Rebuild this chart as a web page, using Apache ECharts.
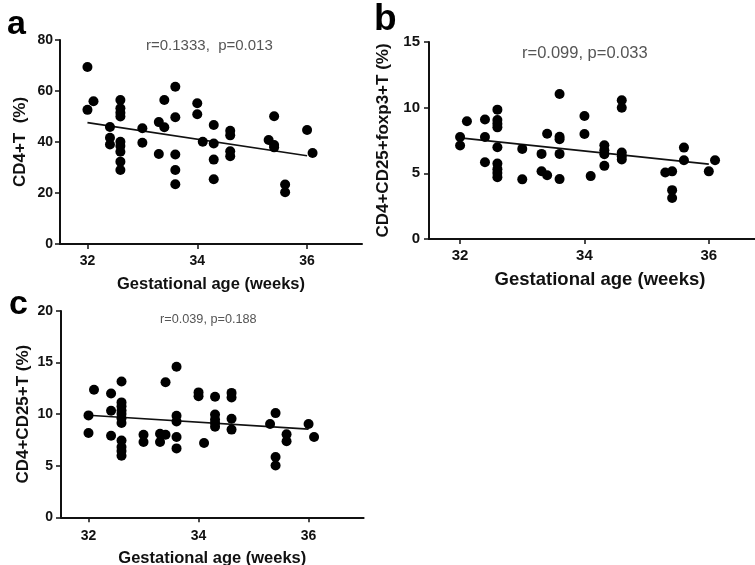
<!DOCTYPE html>
<html><head><meta charset="utf-8">
<script src="https://cdn.jsdelivr.net/npm/echarts@6/dist/echarts.min.js"></script>
<style>html,body{margin:0;background:#fff}#c{width:755px;height:565px}</style>
</head><body><div id="c"></div>
<script>
// Panel a: CD4+T (%)
const xA = [32,32,32.11,32.41,32.41,32.41,32.6,32.6,32.6,32.6,32.6,32.6,32.6,32.6,32.6,33.0,33.0,33.3,33.3,33.4,33.4,33.6,33.6,33.6,33.6,33.6,34.0,34.0,34.1,34.3,34.3,34.3,34.3,34.6,34.6,34.6,34.6,35.3,35.4,35.4,35.4,35.6,35.6,36.0,36.1];
const yA = [69.4,52.6,56,45.9,41.7,39.0,56.5,53.2,51.5,50.0,40.1,38.4,36.2,32.3,29.0,45.4,39.7,47.8,35.3,45.8,56.5,61.7,49.7,35.1,29.0,23.4,55.2,50.9,40.1,46.7,39.4,33.1,25.4,44.4,42.6,36.4,34.4,40.8,50.1,38.8,37.9,23.3,20.3,44.7,35.7];
const fitA = [[32,47.6],[36,34.6]];
// Panel b: CD4+CD25+foxp3+T (%)
const xB = [32,32,32.11,32.4,32.4,32.4,32.6,32.6,32.6,32.6,32.6,32.6,32.6,32.6,32.6,33.0,33.0,33.31,33.31,33.4,33.4,33.6,33.6,33.6,33.6,33.6,34.0,34.0,34.1,34.32,34.32,34.32,34.32,34.6,34.6,34.6,34.6,34.6,35.3,35.41,35.41,35.41,35.6,35.6,36.0,36.1];
const yB = [7.76,7.12,8.96,9.1,7.77,5.85,9.85,9.06,8.78,8.5,6.99,5.74,5.32,5.02,4.71,6.86,4.54,6.48,5.16,8.01,4.85,11.04,7.78,7.6,6.48,4.56,9.37,8.0,4.79,7.14,6.76,6.46,5.57,10.57,10.0,6.58,6.3,6.05,5.07,5.15,3.72,3.12,6.96,5.99,5.15,5.99];
const fitB = [[32,7.7],[36,5.7]];
// Panel c: CD4+CD25+T (%)
const xC = [32,32,32.1,32.41,32.41,32.41,32.6,32.6,32.6,32.6,32.6,32.6,32.6,32.6,32.6,32.6,32.6,33.0,33.0,33.3,33.3,33.4,33.4,33.6,33.6,33.6,33.6,33.6,34.0,34.0,34.1,34.3,34.3,34.3,34.3,34.3,34.6,34.6,34.6,34.6,35.3,35.4,35.4,35.4,35.6,35.6,36.0,36.1];
const yC = [9.88,8.17,12.37,12.0,10.33,7.91,13.17,11.14,10.77,10.36,10.01,9.6,9.15,7.44,6.81,6.42,5.97,8.01,7.3,8.1,7.3,13.1,8.01,14.59,9.85,9.28,7.78,6.68,12.11,11.73,7.2,11.68,9.96,9.49,9.15,8.78,12.06,11.62,9.55,8.5,9.04,10.1,5.84,5.03,8.04,7.37,9.04,7.78];
const fitC = [[32,9.9],[36,8.55]];
const xTicks = [32,34,36];
const xTitle = 'Gestational age (weeks)';
const yTitles = ['CD4+T  (%)','CD4+CD25+foxp3+T (%)','CD4+CD25+T (%)'];
const stats = ['r=0.1333,  p=0.013','r=0.099, p=0.033','r=0.039, p=0.188'];
const panelLetters = ['a','b','c'];

const zip = (xs, ys) => xs.map((x,i)=>[x, ys[i]]);
const FONT = '"Liberation Sans", Arial, sans-serif';
const chart = echarts.init(document.getElementById('c'), null, {renderer:'canvas'});

function xAxis(gi, labelSize, labelMargin, nameGap, nameSize){
  return {
    type:'value', gridIndex: gi, min:31.5, max:37,
    name: xTitle, nameLocation:'middle', nameGap: nameGap,
    nameTextStyle:{fontFamily:FONT, fontWeight:'bold', fontSize:nameSize, color:'#111'},
    axisLine:{show:true, onZero:false, lineStyle:{color:'#111', width:2}},
    axisTick:{show:true, customValues:xTicks, length:5, lineStyle:{color:'#111', width:1.5}},
    axisLabel:{customValues:xTicks, margin:labelMargin, fontFamily:FONT, fontWeight:'bold', fontSize:labelSize, color:'#111'},
    splitLine:{show:false}
  };
}
function yAxis(gi, max, interval, name, nameGap, nameSize, labelSize, labelMargin){
  return {
    type:'value', gridIndex: gi, min:0, max:max, interval:interval,
    name: name, nameLocation:'middle', nameGap: nameGap, nameRotate:90,
    nameTextStyle:{fontFamily:FONT, fontWeight:'bold', fontSize:nameSize, color:'#111'},
    axisLine:{show:true, lineStyle:{color:'#111', width:2}},
    axisTick:{show:true, length:5, lineStyle:{color:'#111', width:1.5}},
    axisLabel:{margin:labelMargin, fontFamily:FONT, fontWeight:'bold', fontSize:labelSize, color:'#111'},
    splitLine:{show:false}
  };
}
function scatter(gi, data){
  return {type:'scatter', xAxisIndex:gi, yAxisIndex:gi, data:data, symbol:'circle', symbolSize:10,
    itemStyle:{color:'#000', opacity:1}, silent:true, z:3};
}
function fit(gi, data){
  return {type:'line', xAxisIndex:gi, yAxisIndex:gi, data:data, symbol:'none',
    lineStyle:{color:'#111', width:1.6}, silent:true, z:2};
}
function txt(x, y, text, size, weight, color){
  return {type:'text', left:x, top:y, style:{text:text, font:(weight||'normal')+' '+size+'px '+FONT, fill:color||'#000'}};
}

chart.setOption({
  animation:false,
  backgroundColor:'#fff',
  grid:[
    {left:60, top:40, width:302, height:204, outerBoundsMode:'none', containLabel:false},
    {left:429, top:42, width:342, height:197, outerBoundsMode:'none', containLabel:false},
    {left:61, top:311, width:302.6, height:206.3, outerBoundsMode:'none', containLabel:false}
  ],
  xAxis:[xAxis(0,14,10,32,16.5), xAxis(1,15,9,31,18.5), xAxis(2,14,12,33,16.5)],
  yAxis:[yAxis(0,80,20,yTitles[0],31,17,14,7), yAxis(1,15,5,yTitles[1],37,17,15,9), yAxis(2,20,5,yTitles[2],29,17,14,8)],
  series:[
    scatter(0, zip(xA,yA)), fit(0, fitA),
    scatter(1, zip(xB,yB)), fit(1, fitB),
    scatter(2, zip(xC,yC)), fit(2, fitC)
  ],
  graphic:[
    txt(7, 8, panelLetters[0], 34, 'bold'),
    txt(374, 1, panelLetters[1], 37, 'bold'),
    txt(9, 288, panelLetters[2], 34, 'bold'),
    txt(146, 38, stats[0], 15, 'normal', '#555'),
    txt(522, 45, stats[1], 16.5, 'normal', '#555'),
    txt(160, 313, stats[2], 12.7, 'normal', '#555')
  ]
});
</script></body></html>
